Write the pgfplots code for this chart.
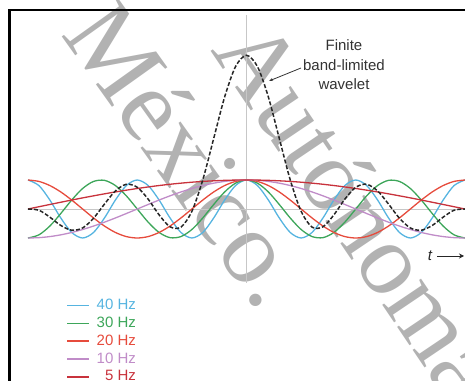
\documentclass[border=0pt]{standalone}
\usepackage{fontspec}
\setmainfont{Liberation Sans}
\newfontfamily\wmfont{Liberation Serif}
\usepackage{pgfplots}
\pgfplotsset{compat=1.18}
\usepackage{pgfplotstable}
\usetikzlibrary{arrows.meta}
\definecolor{c40}{HTML}{56B4E0}
\definecolor{c30}{HTML}{3DA65A}
\definecolor{c20}{HTML}{E64B3C}
\definecolor{c10}{HTML}{C08CC8}
\definecolor{c5}{HTML}{C8323C}

\pgfplotstableread{
t      c40     c30     c20     c10     c5     w
-50    1       -1      1       -1      0      0
-47.5  0.809   -0.891  0.951   -0.988  0.078  -0.043
-45    0.309   -0.588  0.809   -0.951  0.156  -0.281
-42.5  -0.309  -0.156  0.588   -0.891  0.233  -0.567
-40    -0.809  0.309   0.309   -0.809  0.309  -0.732
-37.5  -1      0.707   0       -0.707  0.383  -0.654
-35    -0.809  0.951   -0.309  -0.588  0.454  -0.319
-32.5  -0.309  0.988   -0.588  -0.454  0.523  0.170
-30    0.309   0.809   -0.809  -0.309  0.588  0.623
-27.5  0.809   0.454   -0.951  -0.156  0.649  0.853
-25    1       0       -1      0       0.707  0.749
-22.5  0.809   -0.454  -0.951  0.156   0.760  0.339
-20    0.309   -0.809  -0.809  0.309   0.809  -0.202
-17.5  -0.309  -0.988  -0.588  0.454   0.853  -0.613
-15    -0.809  -0.951  -0.309  0.588   0.891  -0.625
-12.5  -1      -0.707  0       0.707   0.924  -0.081
-10    -0.809  -0.309  0.309   0.809   0.951  1.008
-7.5   -0.309  0.156   0.588   0.891   0.972  2.436
-5     0.309   0.588   0.809   0.951   0.988  3.864
-2.5   0.809   0.891   0.951   0.988   0.997  4.914
0      1       1       1       1       1      5.300
2.5    0.809   0.891   0.951   0.988   0.997  4.914
5      0.309   0.588   0.809   0.951   0.988  3.864
7.5    -0.309  0.156   0.588   0.891   0.972  2.436
10     -0.809  -0.309  0.309   0.809   0.951  1.008
12.5   -1      -0.707  0       0.707   0.924  -0.081
15     -0.809  -0.951  -0.309  0.588   0.891  -0.625
17.5   -0.309  -0.988  -0.588  0.454   0.853  -0.613
20     0.309   -0.809  -0.809  0.309   0.809  -0.202
22.5   0.809   -0.454  -0.951  0.156   0.760  0.339
25     1       0       -1      0       0.707  0.749
27.5   0.809   0.454   -0.951  -0.156  0.649  0.853
30     0.309   0.809   -0.809  -0.309  0.588  0.623
32.5   -0.309  0.988   -0.588  -0.454  0.523  0.170
35     -0.809  0.951   -0.309  -0.588  0.454  -0.319
37.5   -1      0.707   0       -0.707  0.383  -0.654
40     -0.809  0.309   0.309   -0.809  0.309  -0.732
42.5   -0.309  -0.156  0.588   -0.891  0.233  -0.567
45     0.309   -0.588  0.809   -0.951  0.156  -0.281
47.5   0.809   -0.891  0.951   -0.988  0.078  -0.043
50     1       -1      1       -1      0      0
}\wave

\begin{document}
\begin{tikzpicture}
\useasboundingbox (0,0) rectangle (465bp,381bp);
\clip (0,0) rectangle (465bp,381bp);
% watermark
\node[rotate=-54.5, anchor=base west, inner sep=0pt, text=black!30,
      font=\wmfont\fontsize{104bp}{104bp}\selectfont] at (60bp,347bp) {México.};
\node[rotate=-56, anchor=base west, inner sep=0pt, text=black!30,
      font=\wmfont\fontsize{102bp}{102bp}\selectfont] at (210bp,331bp) {Autónoma de};
% frame
\draw[line width=2.5bp] (9.5bp,-5bp) |- (475bp,371bp);
\begin{axis}[
  x=4.37bp, y=29bp,
  anchor=origin, at={(246.5bp,172bp)},
  xmin=-50, xmax=50, ymin=-2.55, ymax=6.69,
  hide axis, clip=false,
  legend cell align=left,
  legend image code/.code={\draw[#1, line width=1.6bp] (0bp,0bp) -- (22bp,0bp); \path (29bp,0bp);},
  legend style={at={(0.087,-0.0596)}, anchor=north west, draw=none, fill=none,
    font=\fontsize{15bp}{18bp}\selectfont, inner sep=0pt, row sep=4.8bp,
    nodes={inner sep=0pt, text height=10.5bp, text depth=2.5bp}},
]
\draw[black!22, line width=0.9bp] (axis cs:-50,0) -- (axis cs:50,0);
\draw[black!22, line width=0.9bp] (axis cs:0,6.69) -- (axis cs:0,-2.55);
\addplot[c40, line width=1.3bp, smooth] table[x=t,y=c40]{\wave};
\addlegendentry{\textcolor{c40}{40 Hz}}
\addplot[c30, line width=1.3bp, smooth] table[x=t,y=c30]{\wave};
\addlegendentry{\textcolor{c30}{30 Hz}}
\addplot[c20, line width=1.3bp, smooth] table[x=t,y=c20]{\wave};
\addlegendentry{\textcolor{c20}{20 Hz}}
\addplot[c10, line width=1.3bp, smooth] table[x=t,y=c10]{\wave};
\addlegendentry{\textcolor{c10}{10 Hz}}
\addplot[c5, line width=1.3bp, smooth] table[x=t,y=c5]{\wave};
\addlegendentry{\textcolor{c5}{\phantom{0}5 Hz}}
\addplot[black!85, line width=1.5bp, smooth, dash pattern=on 4bp off 2bp, forget plot] table[x=t,y=w]{\wave};
\end{axis}
% annotations
\node[align=center, text=black!80, font=\fontsize{15bp}{19.5bp}\selectfont] at (344bp,316bp) {Finite\\band-limited\\wavelet};
\draw[black!80, line width=0.8bp, -{Stealth[length=4bp,width=3bp]}] (301bp,313bp) -- (269bp,300bp);
\node[text=black!85, font=\fontsize{15bp}{18bp}\selectfont\itshape, anchor=base] at (430bp,120bp) {t};
\draw[black!85, line width=0.9bp, -{Stealth[length=5bp,width=5bp]}] (437bp,125bp) -- (464bp,125bp);
\end{tikzpicture}
\end{document}
